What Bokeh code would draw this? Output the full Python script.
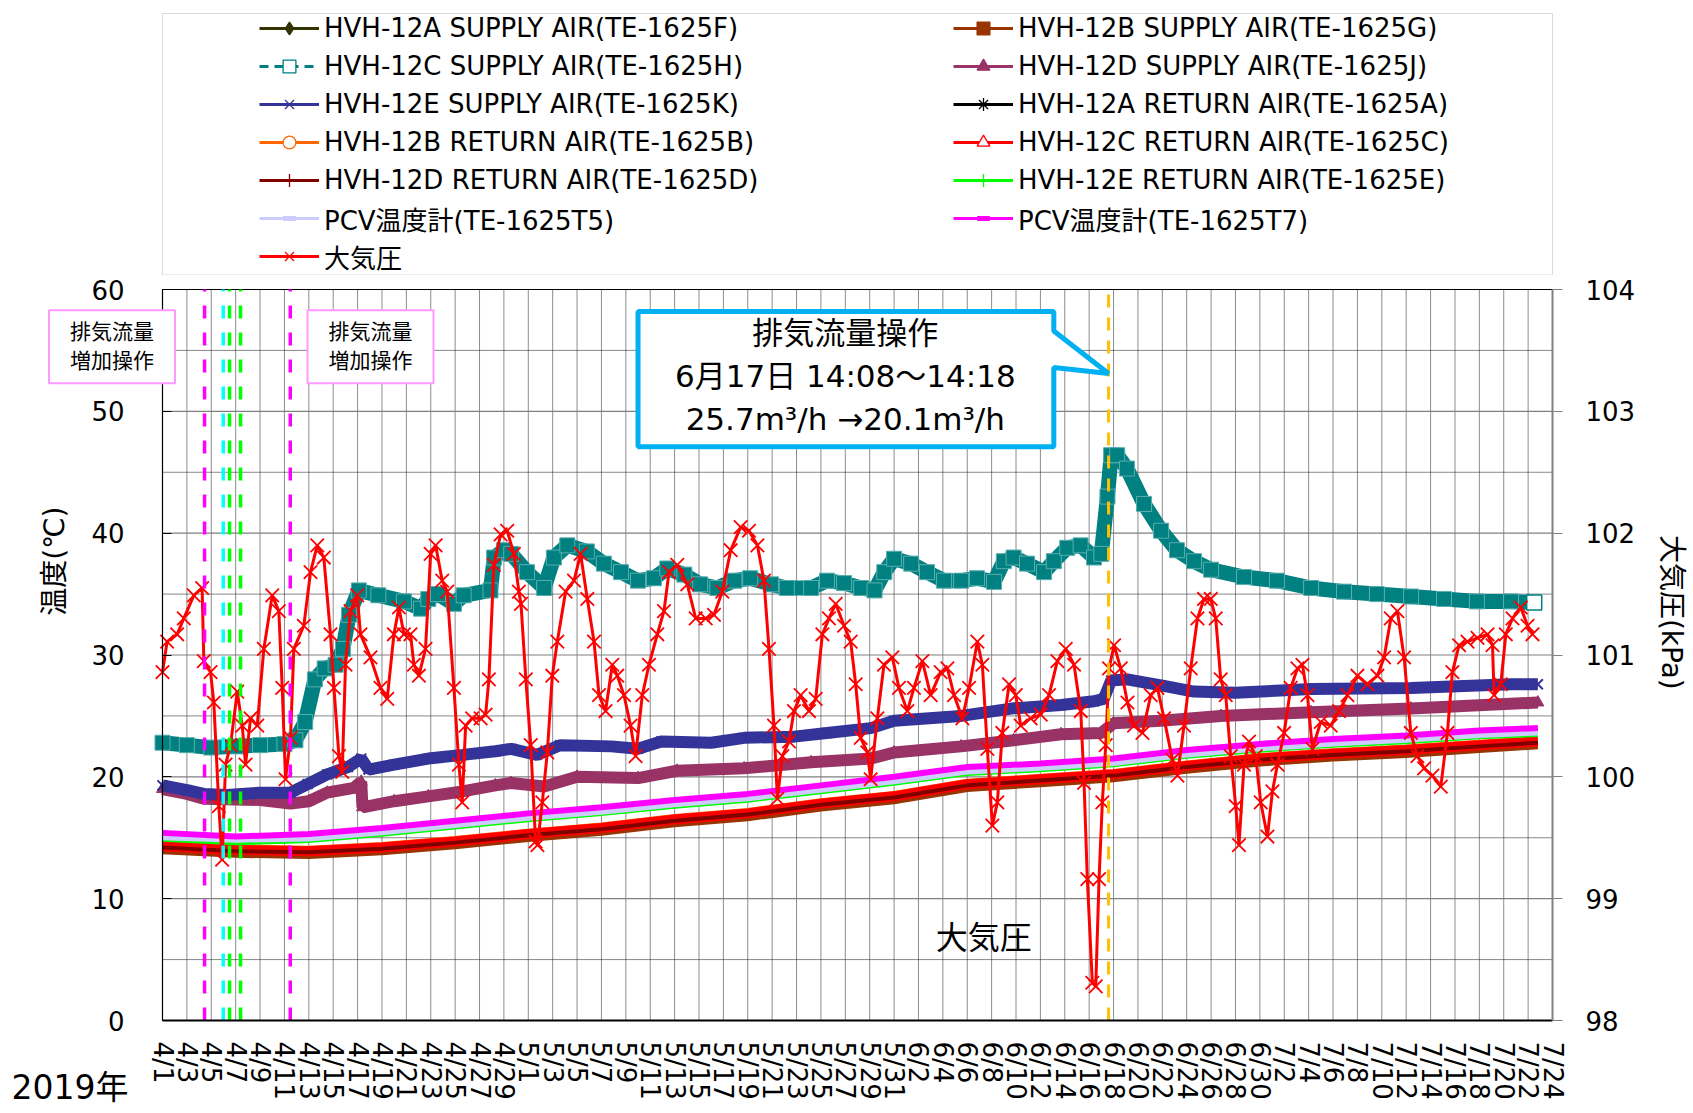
import math
from bokeh.plotting import figure
from bokeh.layouts import column
from bokeh.models import Range1d, LinearAxis, FixedTicker, Label, Legend, LegendItem, BoxAnnotation
from bokeh.embed import file_html
from bokeh.resources import INLINE

FONT = "DejaVu Sans, Noto Sans CJK JP"

# ---------------- data (x = days since 4/1 2019 00:00) ----------------
date_labels = ["4/1", "4/3", "4/5", "4/7", "4/9", "4/11", "4/13", "4/15", "4/17", "4/19",
               "4/21", "4/23", "4/25", "4/27", "4/29",
               "5/1", "5/3", "5/5", "5/7", "5/9", "5/11", "5/13", "5/15", "5/17", "5/19",
               "5/21", "5/23", "5/25", "5/27", "5/29", "5/31",
               "6/2", "6/4", "6/6", "6/8", "6/10", "6/12", "6/14", "6/16", "6/18", "6/20",
               "6/22", "6/24", "6/26", "6/28", "6/30",
               "7/2", "7/4", "7/6", "7/8", "7/10", "7/12", "7/14", "7/16", "7/18", "7/20",
               "7/22", "7/24"]
temp_ticks = [0, 10, 20, 30, 40, 50, 60]
temp_minor = [5, 15, 25, 35, 45, 55]
press_ticks = [98, 99, 100, 101, 102, 103, 104]

# HVH-12C SUPPLY AIR (teal)
sup_c_day = [0, 2, 4, 6, 8, 10, 10.9, 11.7, 12.5, 13.3, 14.2, 14.8, 15.3, 16.1, 17.7, 19.8, 21.2,
             21.8, 22.6, 23.9, 24.7, 26.9, 27.2, 28.0, 28.6, 29.9, 31.3, 32.1, 33.2, 34.8, 36.2,
             37.6, 39.0, 40.3, 41.4, 42.8, 44.1, 45.5, 46.9, 48.2, 49.9, 51.2, 53.2, 54.5, 55.9,
             57.3, 58.4, 59.2, 60.0, 61.4, 62.7, 64.1, 65.5, 66.8, 68.2, 69.0, 69.8, 70.9, 72.3,
             73.1, 74.2, 75.3, 76.4, 77.0, 77.5, 77.8, 78.3, 79.1, 80.5, 81.9, 83.2, 84.6, 86.0,
             88.7, 91.4, 94.2, 96.9, 99.6, 102.4, 105.1, 107.8, 110.6, 112.5]
sup_c_val = [22.8, 22.6, 22.4, 22.5, 22.6, 22.7, 23.0, 24.5, 28.0, 28.9, 29.2, 30.5, 33.3, 35.3,
             34.9, 34.4, 33.8, 34.6, 35.0, 34.2, 34.9, 35.3, 38.0, 38.6, 38.3, 36.8, 35.5, 38.0,
             39.0, 38.5, 37.5, 36.8, 36.1, 36.3, 37.1, 36.6, 35.8, 35.5, 36.1, 36.3, 35.8, 35.5,
             35.5, 36.1, 35.9, 35.5, 35.3, 36.8, 37.9, 37.5, 36.8, 36.1, 36.1, 36.3, 36.0, 37.7,
             38.0, 37.5, 36.8, 37.7, 38.8, 39.0, 38.0, 38.3, 43.0, 46.4, 46.4, 45.3, 42.4, 40.2,
             38.6, 37.7, 37.0, 36.4, 36.1, 35.5, 35.2, 35.0, 34.8, 34.6, 34.4, 34.4, 34.3]

# HVH-12E SUPPLY AIR (blue)
sup_e_day = [0, 2, 3.4, 5.3, 8, 10.5, 11.9, 13.5, 15.2, 16.3, 16.9, 19.0, 21.8, 24.6, 27.3, 28.6,
             30.7, 32.6, 36.8, 39.0, 40.9, 45.0, 47.7, 51.8, 54.5, 58.1, 60.0, 65.5, 69.6, 73.7,
             76.4, 77.2, 77.8, 79.1, 81.9, 84.6, 88.0, 94.2, 102.4, 110.6, 112.8]
sup_e_val = [19.3, 18.9, 18.6, 18.5, 18.7, 18.7, 19.4, 20.2, 20.8, 21.5, 20.6, 21.0, 21.5, 21.8,
             22.1, 22.3, 21.8, 22.6, 22.5, 22.3, 22.9, 22.8, 23.2, 23.3, 23.6, 24.0, 24.6, 25.0,
             25.6, 25.9, 26.2, 26.4, 27.9, 28.0, 27.5, 27.0, 26.9, 27.2, 27.3, 27.6, 27.6]

# HVH-12D SUPPLY AIR (purple)
sup_d_day = [0, 2, 3.4, 8, 10.5, 12, 13.5, 15.7, 16.3, 16.4, 19.0, 21.8, 24.6, 27.3, 28.6, 31.3,
             34.0, 39.0, 42.2, 47.7, 53.2, 58.1, 60.0, 65.5, 69.8, 73.7, 77.0, 78.0, 81.9, 86.8,
             94.2, 102.4, 112.8]
sup_d_val = [19.0, 18.6, 18.2, 18.1, 17.8, 18.0, 18.7, 19.1, 19.6, 17.5, 18.0, 18.4, 18.8, 19.3,
             19.5, 19.2, 20.0, 19.9, 20.5, 20.7, 21.2, 21.5, 22.0, 22.5, 23.0, 23.5, 23.6, 24.4,
             24.6, 25.0, 25.3, 25.6, 26.1]

# lower cluster (common days)
low_day = [0, 6, 12, 18, 24, 30, 36, 42, 48, 54, 60, 66, 72, 78, 84, 90, 96, 102, 108, 112.8]
pcv_t7 = [15.4, 15.1, 15.3, 15.8, 16.4, 17.0, 17.5, 18.1, 18.6, 19.3, 20.0, 20.8, 21.1, 21.5,
          22.2, 22.7, 23.1, 23.4, 23.8, 24.0]
pcv_t5 = [15.0, 14.8, 14.9, 15.4, 16.0, 16.6, 17.1, 17.7, 18.2, 18.9, 19.6, 20.4, 20.7, 21.1,
          21.8, 22.3, 22.7, 23.0, 23.4, 23.6]
ret_e = [14.8, 14.5, 14.7, 15.2, 15.8, 16.4, 16.9, 17.5, 18.0, 18.7, 19.4, 20.2, 20.5, 20.9,
         21.6, 22.1, 22.5, 22.8, 23.2, 23.4]
ret_a = [15.3, 15.0, 15.2, 15.7, 16.3, 16.9, 17.4, 18.0, 18.5, 19.2, 19.9, 20.7, 21.0, 21.4,
         22.1, 22.6, 23.0, 23.3, 23.7, 23.9]
ret_c = [14.3, 14.0, 13.9, 14.2, 14.7, 15.3, 15.8, 16.5, 17.0, 17.8, 18.4, 19.4, 19.8, 20.2,
         20.9, 21.5, 21.9, 22.2, 22.6, 22.9]
ret_b = [14.5, 14.2, 14.1, 14.4, 14.9, 15.5, 16.0, 16.7, 17.2, 18.0, 18.6, 19.6, 20.0, 20.4,
         21.1, 21.7, 22.1, 22.4, 22.8, 23.1]
ret_d = [14.2, 13.9, 13.8, 14.1, 14.6, 15.2, 15.7, 16.4, 16.9, 17.7, 18.3, 19.3, 19.7, 20.1,
         20.8, 21.4, 21.8, 22.1, 22.5, 22.8]
sup_a = [14.1, 13.8, 13.7, 14.0, 14.5, 15.1, 15.6, 16.2, 16.7, 17.5, 18.1, 19.1, 19.5, 19.9,
         20.6, 21.2, 21.6, 22.0, 22.4, 22.7]
sup_b = [13.9, 13.6, 13.5, 13.8, 14.3, 14.9, 15.4, 16.1, 16.6, 17.4, 18.0, 19.0, 19.4, 19.8,
         20.5, 21.1, 21.5, 21.8, 22.2, 22.5]

# atmospheric pressure (kPa)
press_day = [0.0, 0.38, 1.20, 1.75, 2.57, 3.25, 3.39, 3.94, 4.21, 4.62, 4.89, 5.17, 5.58, 6.13,
             6.54, 6.81, 7.22, 7.77, 8.31, 9.00, 9.54, 9.82, 10.09, 10.50, 10.77, 11.59, 12.14,
             12.69, 13.23, 13.78, 14.06, 14.47, 14.74, 15.01, 15.42, 15.97, 16.24, 17.06, 17.88,
             18.43, 18.98, 19.39, 19.80, 20.34, 20.62, 21.03, 21.57, 21.99, 22.40, 22.94, 23.35,
             23.90, 24.31, 24.58, 24.86, 25.40, 26.09, 26.50, 26.77, 27.18, 27.73, 28.27, 28.82,
             29.23, 29.4, 29.8, 30.2, 30.6, 30.75, 31.15, 31.56, 31.97, 32.38, 33.06, 33.75,
             34.29, 34.84, 35.39, 35.80, 36.34, 36.89, 37.30, 37.85, 38.39, 38.80, 39.35, 39.90,
             40.58, 41.13, 41.54, 42.22, 43.04, 43.73, 44.55, 45.23, 45.91, 46.60, 47.42, 48.10,
             48.79, 49.33, 49.74, 50.15, 50.43, 50.84, 51.38, 51.79, 52.34, 53.02, 53.57, 54.12,
             54.66, 55.21, 55.90, 56.44, 56.85, 57.26, 57.81, 58.08, 58.63, 59.17, 59.86, 60.40,
             61.09, 61.63, 62.32, 63.00, 63.82, 64.37, 64.92, 65.60, 66.15, 66.83, 67.24, 67.65,
             68.06, 68.47, 68.88, 69.43, 69.98, 70.39, 71.20, 72.03, 72.71, 73.39, 74.08, 74.76,
             75.31, 75.58, 75.85, 76.26, 76.54, 76.81, 77.08, 77.36, 77.63, 78.04, 78.59, 79.14,
             79.68, 80.37, 81.05, 81.60, 82.14, 82.83, 83.24, 83.78, 84.33, 84.88, 85.42, 85.97,
             86.38, 86.79, 87.20, 87.61, 88.02, 88.29, 88.70, 89.11, 89.66, 90.07, 90.62, 91.03,
             91.44, 91.99, 92.53, 93.08, 93.49, 93.90, 94.31, 94.99, 95.81, 96.50, 97.18, 98.00,
             98.82, 99.64, 100.19, 100.74, 101.28, 101.83, 102.38, 102.92, 103.47, 104.15, 104.84,
             105.38, 105.79, 106.34, 107.03, 107.85, 108.67, 109.08, 109.21, 109.76, 110.17,
             110.72, 111.40, 111.95, 112.36]
press_kpa = [100.86, 101.11, 101.17, 101.30, 101.49, 101.55, 100.95, 100.86, 100.61, 99.76, 99.32,
             100.10, 100.26, 100.70, 100.42, 100.10, 100.48, 100.42, 101.05, 101.49, 101.36,
             100.73, 99.98, 100.32, 101.05, 101.24, 101.68, 101.90, 101.80, 101.17, 100.73,
             100.17, 100.04, 100.92, 101.36, 101.49, 101.17, 100.98, 100.73, 100.64, 101.17,
             101.39, 101.17, 101.17, 100.92, 100.83, 101.05, 101.83, 101.90, 101.61, 101.52,
             100.73, 100.10, 99.79, 100.42, 100.48, 100.48, 100.51, 100.80, 101.74, 101.99,
             102.02, 101.83, 101.52, 101.42, 100.80, 100.26, 99.47, 99.44, 99.79, 100.20, 100.83,
             101.11, 101.52, 101.61, 101.83, 101.46, 101.11, 100.67, 100.54, 100.92, 100.83,
             100.67, 100.42, 100.17, 100.67, 100.92, 101.17, 101.36, 101.68, 101.74, 101.58,
             101.30, 101.30, 101.33, 101.52, 101.86, 102.05, 102.02, 101.90, 101.61, 101.05,
             100.42, 99.82, 100.17, 100.29, 100.54, 100.67, 100.54, 100.64, 101.17, 101.30,
             101.42, 101.24, 101.11, 100.76, 100.32, 100.20, 99.98, 100.48, 100.92, 100.98,
             100.73, 100.54, 100.73, 100.95, 100.67, 100.86, 100.89, 100.67, 100.48, 100.73,
             101.11, 100.92, 100.23, 99.60, 99.79, 100.36, 100.76, 100.67, 100.42, 100.48,
             100.51, 100.67, 100.95, 101.05, 100.92, 100.54, 99.95, 99.16, 98.31, 98.28, 99.16,
             99.79, 100.26, 100.89, 101.08, 100.89, 100.61, 100.42, 100.36, 100.67, 100.73,
             100.48, 100.14, 100.01, 100.42, 100.89, 101.30, 101.46, 101.46, 101.30, 100.80,
             100.67, 100.17, 99.76, 99.44, 100.10, 100.29, 100.17, 99.79, 99.51, 99.88, 100.10,
             100.36, 100.73, 100.89, 100.92, 100.67, 100.23, 100.45, 100.42, 100.54, 100.67,
             100.83, 100.76, 100.83, 100.98, 101.30, 101.36, 100.98, 100.36, 100.17, 100.07,
             100.01, 99.92, 100.36, 100.86, 101.08, 101.11, 101.14, 101.17, 101.08, 100.67,
             100.76, 101.17, 101.30, 101.39, 101.24, 101.17]

# operation markers (day, colour)
op_days = [3.45, 4.98, 5.5, 6.4, 10.48]
op_colors = ["#FF00FF", "#00FFFF", "#00FF00", "#00FF00", "#FF00FF"]
event_day = 77.59   # 6/17 14:08

# ---------------- main chart: frame = whole canvas, axes pinned ----------------
X_END_DAY = 114
PX_DAY = 1390 / X_END_DAY          # px per day
PX_DEG = 731 / 60                  # px per degC
W, H = 1690, 836
LEG_H = 275
x0 = -162 / PX_DAY
y1 = 60 + 14 / PX_DEG
y0 = y1 - H / PX_DEG

x_ticks = [2 * i for i in range(len(date_labels))]

p = figure(width=W, height=H, min_border=0, min_border_left=0, min_border_right=0,
           min_border_top=0, min_border_bottom=0,
           x_range=Range1d(x0, x0 + W / PX_DAY), y_range=Range1d(y0, y1),
           x_axis_type=None, y_axis_type=None, output_backend="svg", toolbar_location=None)
p.outline_line_color = None
p.background_fill_color = "white"
p.border_fill_color = "white"
p.extra_y_ranges = {"press": Range1d(98 + y0 / 10, 98 + y1 / 10)}

# grid lines from tick arrays
n = len(x_ticks)
p.segment(x0=x_ticks, y0=[0] * n, x1=x_ticks, y1=[60] * n, line_color="#1a1a1a",
          line_width=1, line_dash="1 1")
p.segment(x0=[0] * len(temp_minor), y0=temp_minor, x1=[X_END_DAY] * len(temp_minor),
          y1=temp_minor, line_color="#111111", line_width=1, line_dash="1 1")
mid_major = temp_ticks[1:-1]
p.segment(x0=[0] * len(mid_major), y0=mid_major, x1=[X_END_DAY] * len(mid_major), y1=mid_major,
          line_color="#808080", line_width=1.2)
p.segment(x0=[0], y0=[temp_ticks[-1]], x1=[X_END_DAY], y1=[temp_ticks[-1]], line_color="black",
          line_width=1.2)

xax = LinearAxis(fixed_location=0, bounds=(0, X_END_DAY), ticker=FixedTicker(ticks=x_ticks))
xax.major_label_overrides = {t: lab for t, lab in zip(x_ticks, date_labels)}
xax.major_label_orientation = "vertical"
xax.major_tick_out = 0
xax.major_tick_in = 0
xax.minor_tick_line_color = None
xax.major_label_standoff = 21
xax.axis_line_width = 2
xax.axis_line_color = "black"
xax.major_label_text_font = FONT
xax.major_label_text_font_size = "26px"
xax.major_label_text_color = "black"
p.add_layout(xax, "below")

yax = LinearAxis(fixed_location=0, bounds=(0, 60), ticker=FixedTicker(ticks=temp_ticks))
yax.major_tick_out = 0
yax.major_tick_in = 9
yax.major_tick_line_color = "black"
yax.minor_tick_line_color = None
yax.major_label_standoff = 38
yax.axis_line_color = "black"
yax.axis_line_width = 1.2
yax.major_label_text_font = FONT
yax.major_label_text_font_size = "26px"
yax.major_label_text_color = "black"
p.add_layout(yax, "left")

rax = LinearAxis(y_range_name="press", fixed_location=X_END_DAY, bounds=(98, 104),
                 ticker=FixedTicker(ticks=press_ticks))
rax.major_tick_out = 10
rax.major_tick_in = 0
rax.major_tick_line_color = "#808080"
rax.minor_tick_line_color = None
rax.axis_line_color = "#808080"
rax.axis_line_width = 2
rax.major_label_standoff = 23
rax.major_label_text_font = FONT
rax.major_label_text_font_size = "26px"
rax.major_label_text_color = "black"
p.add_layout(rax, "right")

# series, Excel drawing order
p.line(low_day, sup_a, line_color="#333300", line_width=4)
p.line(low_day, sup_b, line_color="#993300", line_width=6)
p.line(sup_c_day, sup_c_val, line_color="#008080", line_width=15)
p.scatter(sup_c_day[:-1], sup_c_val[:-1], marker="square", size=15, fill_color="#008080",
          line_color="#5aaeae", line_width=1)
p.scatter(sup_c_day[-1:], sup_c_val[-1:], marker="square", size=15, fill_color="white",
          line_color="#008080", line_width=1.5)
p.line(sup_d_day, sup_d_val, line_color="#993366", line_width=12)
p.scatter(sup_d_day, sup_d_val, marker="triangle", size=12, fill_color="#993366",
          line_color="#993366")
p.line(sup_e_day, sup_e_val, line_color="#333399", line_width=12)
p.scatter(sup_e_day, sup_e_val, marker="x", size=14, line_color="#333399", line_width=2)
p.line(low_day, ret_a, line_color="#000000", line_width=2)
p.line(low_day, ret_b, line_color="#FF6600", line_width=6)
p.line(low_day, ret_c, line_color="#FF0000", line_width=10)
p.line(low_day, ret_d, line_color="#800000", line_width=4)
p.line(low_day, ret_e, line_color="#00FF00", line_width=3)
p.line(low_day, pcv_t5, line_color="#CCCCFF", line_width=5)
p.line(low_day, pcv_t7, line_color="#FF00FF", line_width=6)
p.line(press_day, press_kpa, line_color="#FF0000", line_width=3, y_range_name="press")
p.scatter(press_day, press_kpa, marker="x", size=19, line_color="#FF0000", line_width=1.8,
          y_range_name="press")

# operation lines
m = len(op_days)
p.segment(x0=op_days, y0=[0] * m, x1=op_days, y1=[60] * m, line_color=op_colors,
          line_width=3.5, line_dash="13 14")
p.segment(x0=[event_day], y0=[0], x1=[event_day], y1=[60], line_color="#FFC000",
          line_width=3, line_dash="13 10")

# callout
callout_x = [39.0, 73.1, 73.1, event_day, 73.1, 73.1, 39.0]
callout_y = [58.2, 58.2, 56.6, 53.1, 53.6, 47.1, 47.1]
p.patch(callout_x, callout_y, fill_color="white", line_color="#00B0F0", line_width=5)
p.add_layout(Label(x=56.0, y=52.9, text="排気流量操作\n6月17日 14:08～14:18\n25.7m\u00b3/h →20.1m\u00b3/h",
                   text_font=FONT, text_font_size="31px", text_align="center",
                   text_baseline="middle", text_color="black"))

for bx in (-4.14, 17.06):
    p.add_layout(Label(x=bx, y=55.3, text="排気流量\n増加操作", text_font=FONT,
                       text_font_size="21px", text_align="center", text_baseline="middle",
                       background_fill_color="white", border_line_color="#FF99FF",
                       border_line_width=2, padding=(21, 10), text_color="black"))

p.add_layout(Label(x=67.35, y=6.8, text="大気圧", text_font=FONT, text_font_size="32px",
                   text_align="center", text_baseline="middle", text_color="black"))
p.add_layout(Label(x=(54 - 162) / PX_DAY, y=37.7, text="温度(℃)", text_font=FONT,
                   text_font_size="28px", text_align="center", text_baseline="middle",
                   angle=math.pi / 2, text_color="black"))
p.add_layout(Label(x=(1671 - 162) / PX_DAY, y=33.5, text="大気圧(kPa)", text_font=FONT,
                   text_font_size="28px", text_align="center", text_baseline="middle",
                   angle=-math.pi / 2, text_color="black"))
p.add_layout(Label(x=(11 - 162) / PX_DAY, y=-5.5, text="2019年", text_font=FONT,
                   text_font_size="33px", text_align="left", text_baseline="middle",
                   text_color="black"))

# ---------------- legend panel (pixel coordinates, y down) ----------------
lf = figure(width=W, height=LEG_H, min_border=0, min_border_left=0, min_border_right=0,
            min_border_top=0, min_border_bottom=0,
            x_range=Range1d(0, W), y_range=Range1d(LEG_H, 0),
            x_axis_type=None, y_axis_type=None, output_backend="svg", toolbar_location=None)
lf.outline_line_color = None
lf.background_fill_color = "white"
lf.border_fill_color = "white"
lf.add_layout(BoxAnnotation(left=162, right=1552, top=13, bottom=LEG_H - 0.5, fill_alpha=0,
                            line_color="#898989", line_width=1))

legend_specs = [
    ("HVH-12A SUPPLY AIR(TE-1625F)", "#333300", "solid", "diamond", "#333300"),
    ("HVH-12B SUPPLY AIR(TE-1625G)", "#993300", "solid", "square", "#993300"),
    ("HVH-12C SUPPLY AIR(TE-1625H)", "#008080", "9 6", "square", "white"),
    ("HVH-12D SUPPLY AIR(TE-1625J)", "#993366", "solid", "triangle", "#993366"),
    ("HVH-12E SUPPLY AIR(TE-1625K)", "#333399", "solid", "x", None),
    ("HVH-12A RETURN AIR(TE-1625A)", "#000000", "solid", "asterisk", None),
    ("HVH-12B RETURN AIR(TE-1625B)", "#FF6600", "solid", "circle", "white"),
    ("HVH-12C RETURN AIR(TE-1625C)", "#FF0000", "solid", "triangle", "white"),
    ("HVH-12D RETURN AIR(TE-1625D)", "#800000", "solid", "cross", None),
    ("HVH-12E RETURN AIR(TE-1625E)", "#00FF00", "solid", "cross", None),
    ("PCV温度計(TE-1625T5)", "#CCCCFF", "solid", "dash", None),
    ("PCV温度計(TE-1625T7)", "#FF00FF", "solid", "dash", None),
    ("大気圧", "#FF0000", "solid", "x", None),
]
items = []
for lab, col, dash, mk, fill in legend_specs:
    r1 = lf.line(x=[-10, -9], y=[-10, -10], line_color=col, line_width=3, line_dash=dash)
    mw = 5 if mk == "dash" else 1.3
    r2 = lf.scatter(x=[-10], y=[-10], marker=mk, size=12, line_color=col, line_width=mw,
                    fill_color=fill if fill else col)
    items.append(LegendItem(label=lab, renderers=[r1, r2]))

legend = Legend(items=items, orientation="horizontal", ncols=2, location=(259, 0),
                padding=0, margin=0, spacing=0, glyph_width=60, glyph_height=32,
                label_height=38, label_width=629, label_standoff=5,
                label_text_font=FONT, label_text_font_size="26px", label_text_color="black",
                border_line_alpha=0, background_fill_alpha=0)
lf.add_layout(legend)

layout = column(lf, p)
open("out.html", "w").write(file_html(layout, INLINE))
